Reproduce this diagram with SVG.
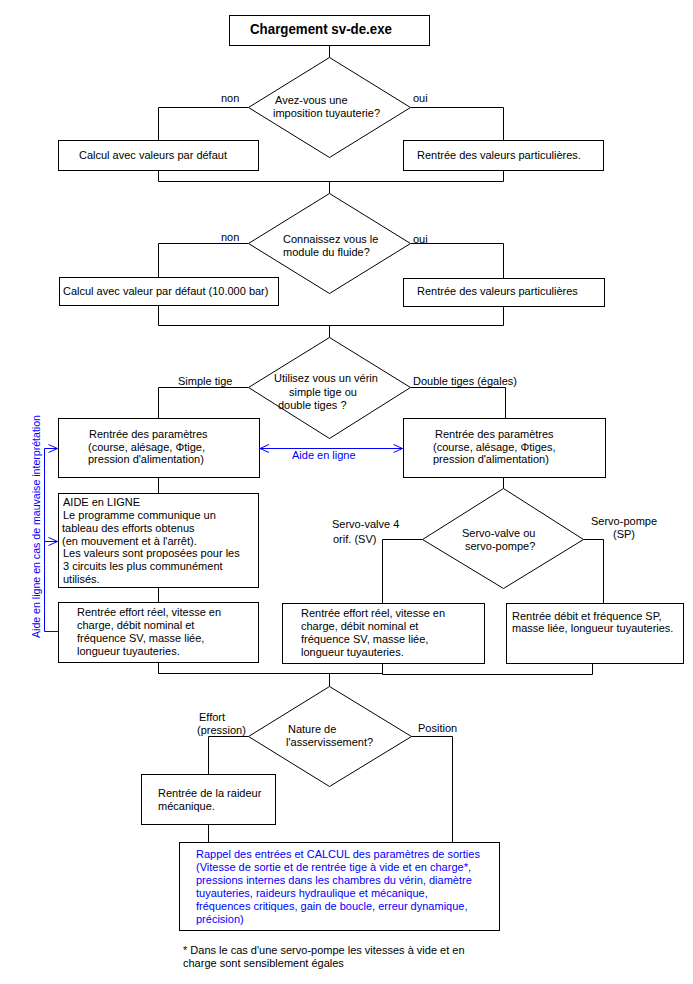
<svg xmlns="http://www.w3.org/2000/svg" width="693" height="984" viewBox="0 0 693 984">
<style>
.box{fill:#fff;stroke:#000;stroke-width:1}
.ln{fill:none;stroke:#000;stroke-width:1}
.bl{fill:none;stroke:#0000ff;stroke-width:1}
text{font-family:"Liberation Sans",Arial,sans-serif;font-size:11px;fill:#000}
.blue{fill:#0000ff}
.title{font-weight:bold;font-size:15px}
</style>
<defs>
<marker id="chev" viewBox="-10 -5 11 10" refX="0" refY="0" markerWidth="11" markerHeight="10" markerUnits="userSpaceOnUse" orient="auto-start-reverse" overflow="visible">
<path d="M-9,-4 L0,0 L-9,4" fill="none" stroke="#0000ff" stroke-width="1"/>
</marker>
</defs>
<rect width="693" height="984" fill="#fff"/>
<g id="connectors">
<path class="ln" d="M329.5,45.5 V57.5"/>
<path class="ln" d="M248.5,107.5 H158.5 V140.5"/>
<path class="ln" d="M410.5,107.5 H503.5 V140.5"/>
<path class="ln" d="M158.5,170.5 V181.5 H503.5 V170.5"/>
<path class="ln" d="M329.5,181.5 V193.5"/>
<path class="ln" d="M248.5,243.5 H158.5 V277.5"/>
<path class="ln" d="M410.5,243.5 H503.5 V278.5"/>
<path class="ln" d="M158.5,305.5 V325.5 H503.5 V306.5"/>
<path class="ln" d="M329.5,325.5 V337.5"/>
<path class="ln" d="M248.5,387.5 H158.5 V418.5"/>
<path class="ln" d="M410.5,387.5 H505.5 V418.5"/>
<path class="ln" d="M158.5,477.5 V493.5"/>
<path class="ln" d="M158.5,587.5 V602.5"/>
<path class="ln" d="M158.5,662.5 V673.5 H382.5"/>
<path class="ln" d="M382.5,663.5 V674.5 H592.5 V663.5"/>
<path class="ln" d="M329.5,673.5 V686.5"/>
<path class="ln" d="M503.5,477.5 V488.5"/>
<path class="ln" d="M422.5,539.5 H382.5 V603.5"/>
<path class="ln" d="M583.5,539.5 H603.5 V603.5"/>
<path class="ln" d="M248.5,736.5 H208.5 V774.5"/>
<path class="ln" d="M208.5,824.5 V842.5"/>
<path class="ln" d="M411.5,736.5 H452.5 V842.5"/>
<path class="bl" d="M260,448.5 H402.5" marker-start="url(#chev)" marker-end="url(#chev)"/>
<path class="bl" d="M58.5,631.5 H44.5 V448.5 H57.5" marker-end="url(#chev)"/>
<path class="bl" d="M44.5,541.5 H57.5" marker-end="url(#chev)"/>
<text x="221" y="102">non</text>
<text x="413" y="102">oui</text>
<text x="221" y="241">non</text>
<text x="413" y="243">oui</text>
<text x="178" y="385">Simple tige</text>
<text x="413" y="385">Double tiges (égales)</text>
<text class="blue" x="292" y="459">Aide en ligne</text>
<text class="blue" transform="translate(40,638) rotate(-90)" textLength="223" lengthAdjust="spacingAndGlyphs">Aide en ligne en cas de mauvaise interprétation</text>
<text x="332" y="528">Servo-valve 4</text>
<text x="333" y="543">orif. (SV)</text>
<text x="591" y="525">Servo-pompe</text>
<text x="613" y="538">(SP)</text>
<text x="199" y="721">Effort</text>
<text x="197" y="734">(pression)</text>
<text x="418" y="732">Position</text>
</g>
<g id="n-start">
<rect class="box" x="229.5" y="15.5" width="200" height="30"/>
<text class="title" x="250" y="34" textLength="142" lengthAdjust="spacingAndGlyphs">Chargement sv-de.exe</text>
</g>
<g id="d-imposition">
<polygon class="box" points="329.5,57.5 410.5,107.5 329.5,157.5 248.5,107.5"/>
<text x="275" y="104">Avez-vous une</text>
<text x="273" y="117">imposition tuyauterie?</text>
</g>
<g id="n-calcul-defaut">
<rect class="box" x="58.5" y="140.5" width="200" height="30"/>
<text x="79" y="159">Calcul avec valeurs par défaut</text>
</g>
<g id="n-valeurs-1">
<rect class="box" x="403.5" y="140.5" width="200" height="30"/>
<text x="417" y="159">Rentrée des valeurs particulières.</text>
</g>
<g id="d-module">
<polygon class="box" points="329.5,193.5 410.5,243.5 329.5,293.5 248.5,243.5"/>
<text x="283" y="243">Connaissez vous le</text>
<text x="283" y="256">module du fluide?</text>
</g>
<g id="n-calcul-bar">
<rect class="box" x="59.5" y="277.5" width="219" height="28"/>
<text x="63" y="295">Calcul avec valeur par défaut (10.000 bar)</text>
</g>
<g id="n-valeurs-2">
<rect class="box" x="403.5" y="278.5" width="201" height="28"/>
<text x="417" y="295">Rentrée des valeurs particulières</text>
</g>
<g id="d-verin">
<polygon class="box" points="329.5,337.5 410.5,387.5 329.5,438.5 248.5,387.5"/>
<text x="274" y="382">Utilisez vous un vérin</text>
<text x="289" y="396">simple tige ou</text>
<text x="278" y="409">double tiges ?</text>
</g>
<g id="n-param-simple">
<rect class="box" x="58.5" y="418.5" width="201" height="59"/>
<text x="89" y="438">Rentrée des paramètres</text>
<text x="88" y="451">(course, alésage, Φtige,</text>
<text x="88" y="463">pression d'alimentation)</text>
</g>
<g id="n-param-double">
<rect class="box" x="403.5" y="418.5" width="202" height="59"/>
<text x="435" y="438">Rentrée des paramètres</text>
<text x="433" y="451">(course, alésage, Φtiges,</text>
<text x="433" y="463">pression d'alimentation)</text>
</g>
<g id="n-aide">
<rect class="box" x="58.5" y="493.5" width="200" height="94"/>
<text x="63" y="506">AIDE en LIGNE</text>
<text x="63" y="519">Le programme communique un</text>
<text x="62" y="532">tableau des efforts obtenus</text>
<text x="62" y="545">(en mouvement et à l'arrêt).</text>
<text x="63" y="557">Les valeurs sont proposées pour les</text>
<text x="63" y="570">3 circuits les plus communément</text>
<text x="63" y="583">utilisés.</text>
</g>
<g id="n-effort-simple">
<rect class="box" x="58.5" y="602.5" width="200" height="60"/>
<text x="77" y="616">Rentrée effort réel, vitesse en</text>
<text x="77" y="629">charge, débit nominal et</text>
<text x="77" y="642">fréquence SV, masse liée,</text>
<text x="77" y="655">longueur tuyauteries.</text>
</g>
<g id="d-servo">
<polygon class="box" points="503.5,488.5 583.5,539.5 503.5,588.5 422.5,539.5"/>
<text x="462" y="537">Servo-valve ou</text>
<text x="465" y="550">servo-pompe?</text>
</g>
<g id="n-effort-sv">
<rect class="box" x="282.5" y="603.5" width="202" height="60"/>
<text x="301" y="617">Rentrée effort réel, vitesse en</text>
<text x="301" y="630">charge, débit nominal et</text>
<text x="301" y="643">fréquence SV, masse liée,</text>
<text x="301" y="656">longueur tuyauteries.</text>
</g>
<g id="n-sp">
<rect class="box" x="506.5" y="603.5" width="177" height="60"/>
<text x="512" y="620">Rentrée débit et fréquence SP,</text>
<text x="512" y="632">masse liée, longueur tuyauteries.</text>
</g>
<g id="d-asservissement">
<polygon class="box" points="329.5,686.5 411.5,736.5 329.5,786.5 248.5,736.5"/>
<text x="288" y="733">Nature de</text>
<text x="286" y="746">l'asservissement?</text>
</g>
<g id="n-raideur">
<rect class="box" x="141.5" y="774.5" width="134" height="50"/>
<text x="158" y="797">Rentrée de la raideur</text>
<text x="158" y="810">mécanique.</text>
</g>
<g id="n-calcul-final">
<rect class="box" x="179.5" y="842.5" width="320" height="88"/>
<text class="blue" x="196" y="858">Rappel des entrées et CALCUL des paramètres de sorties</text>
<text class="blue" x="196" y="871">(Vitesse de sortie et de rentrée tige à vide et en charge*,</text>
<text class="blue" x="196" y="884">pressions internes dans les chambres du vérin, diamètre</text>
<text class="blue" x="196" y="897">tuyauteries, raideurs hydraulique et mécanique,</text>
<text class="blue" x="196" y="910">fréquences critiques, gain de boucle, erreur dynamique,</text>
<text class="blue" x="196" y="923">précision)</text>
</g>
<g id="footnote">
<text x="183" y="954">* Dans le cas d'une servo-pompe les vitesses à vide et en</text>
<text x="183" y="967">charge sont sensiblement égales</text>
</g>
</svg>
